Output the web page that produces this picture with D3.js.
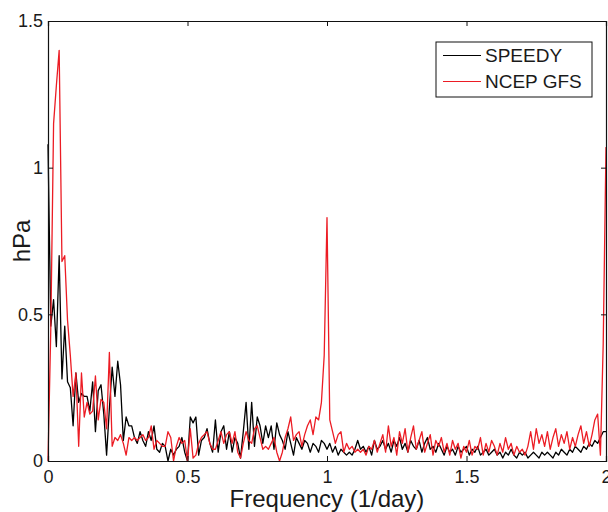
<!DOCTYPE html>
<html>
<head>
<meta charset="utf-8">
<script src="https://cdn.jsdelivr.net/npm/d3@7"></script>
<style>
  body { margin: 0; background: #fff; }
  text { font-family: "Liberation Sans", Arial, Helvetica, sans-serif; fill: #1a1a1a; }
</style>
</head>
<body>
<svg id="view" width="608" height="512"></svg>
<script>
// spectrum amplitude, sampled every 0.01 cycles/day from 0 to 2
var df = 0.01;

var speedy = [
	1.08, 0.46, 0.55, 0.39, 0.70, 0.28, 0.46, 0.27, 0.25, 0.12,
	0.30, 0.20, 0.23, 0.22, 0.22, 0.17, 0.27, 0.10, 0.24, 0.26,
	0.16, 0.02, 0.18, 0.32, 0.22, 0.34, 0.26, 0.07, 0.15, 0.12,
	0.12, 0.08, 0.06, 0.10, 0.07, 0.05, 0.10, 0.07, 0.12, 0.04,
	0.03, 0.06, 0.05, 0.00, 0.04, 0.02, 0.04, 0.05, 0.08, 0.03,
	0.00, 0.15, 0.13, 0.15, 0.02, 0.07, 0.08, 0.11, 0.06, 0.03,
	0.14, 0.03, 0.10, 0.12, 0.04, 0.10, 0.03, 0.08, 0.06, 0.01,
	0.10, 0.20, 0.04, 0.20, 0.05, 0.15, 0.12, 0.06, 0.12, 0.08,
	0.12, 0.04, 0.13, 0.09, 0.07, 0.04, 0.10, 0.06, 0.02, 0.08,
	0.06, 0.04, 0.07, 0.06, 0.03, 0.06, 0.05, 0.03, 0.07, 0.06,
	0.04, 0.06, 0.03, 0.05, 0.02, 0.04, 0.03, 0.02, 0.03, 0.02,
	0.04, 0.07, 0.04, 0.05, 0.03, 0.05, 0.02, 0.07, 0.04, 0.05,
	0.07, 0.04, 0.06, 0.03, 0.07, 0.05, 0.08, 0.04, 0.06, 0.03,
	0.07, 0.05, 0.04, 0.07, 0.03, 0.06, 0.08, 0.04, 0.05, 0.03,
	0.06, 0.04, 0.02, 0.05, 0.03, 0.04, 0.02, 0.05, 0.03, 0.04,
	0.05, 0.02, 0.04, 0.03, 0.05, 0.02, 0.03, 0.04, 0.02, 0.03,
	0.04, 0.02, 0.03, 0.01, 0.03, 0.02, 0.04, 0.02, 0.01, 0.03,
	0.02, 0.03, 0.01, 0.02, 0.03, 0.02, 0.01, 0.03, 0.02, 0.03,
	0.02, 0.01, 0.03, 0.02, 0.04, 0.03, 0.02, 0.04, 0.03, 0.05,
	0.04, 0.03, 0.05, 0.04, 0.06, 0.05, 0.07, 0.06, 0.08, 0.10,
	0.10
];

var ncep = [
	0.00, 0.45, 1.15, 1.28, 1.40, 0.68, 0.70, 0.48, 0.36, 0.22,
	0.30, 0.05, 0.30, 0.15, 0.20, 0.16, 0.17, 0.29, 0.14, 0.21,
	0.20, 0.11, 0.37, 0.05, 0.08, 0.07, 0.09, 0.06, 0.02, 0.08,
	0.07, 0.08, 0.07, 0.08, 0.09, 0.07, 0.08, 0.12, 0.04, 0.07,
	0.06, 0.05, 0.05, 0.10, 0.08, 0.00, 0.05, 0.08, 0.06, 0.07,
	0.00, 0.11, 0.01, 0.02, 0.06, 0.08, 0.09, 0.10, 0.06, 0.04,
	0.04, 0.07, 0.10, 0.06, 0.09, 0.10, 0.06, 0.10, 0.03, 0.01,
	0.06, 0.10, 0.07, 0.06, 0.11, 0.12, 0.08, 0.04, 0.05, 0.04,
	0.06, 0.08, 0.03, 0.00, 0.03, 0.08, 0.11, 0.15, 0.07, 0.09,
	0.10, 0.05, 0.09, 0.12, 0.14, 0.09, 0.15, 0.14, 0.20, 0.36,
	0.83, 0.14, 0.10, 0.06, 0.09, 0.10, 0.03, 0.06, 0.04, 0.05,
	0.03, 0.04, 0.03, 0.04, 0.02, 0.05, 0.04, 0.07, 0.03, 0.06,
	0.09, 0.03, 0.12, 0.05, 0.08, 0.02, 0.10, 0.06, 0.11, 0.03,
	0.08, 0.12, 0.04, 0.07, 0.10, 0.03, 0.06, 0.09, 0.02, 0.07,
	0.05, 0.08, 0.03, 0.06, 0.02, 0.07, 0.04, 0.06, 0.01, 0.05,
	0.03, 0.07, 0.02, 0.05, 0.04, 0.08, 0.02, 0.06, 0.03, 0.07,
	0.05, 0.02, 0.06, 0.03, 0.08, 0.04, 0.06, 0.02, 0.05, 0.03,
	0.04, 0.02, 0.05, 0.10, 0.04, 0.11, 0.06, 0.09, 0.05, 0.10,
	0.04, 0.08, 0.11, 0.05, 0.09, 0.06, 0.10, 0.04, 0.08, 0.05,
	0.09, 0.12, 0.06, 0.10, 0.05, 0.09, 0.14, 0.16, 0.02, 0.40,
	1.07
];

var seriesNames = ['SPEEDY', 'NCEP GFS'];
var seriesColors = ['#000000', '#ec1c24'];
var xTicks = [0, 0.5, 1, 1.5, 2];
var yTicks = [0, 0.5, 1, 1.5];

var view = d3.select('svg#view');
var plot = { left: 48, right: 606, top: 21, bottom: 461 };

var x = d3.scaleLinear().domain([0, 2]).range([plot.left, plot.right]);
var y = d3.scaleLinear().domain([0, 1.5]).range([plot.bottom, plot.top]);

// lines (SPEEDY first, NCEP on top)
var line = d3.line()
	.x(function(d, i) { return x(i * df); })
	.y(function(d) { return y(d); });

[speedy, ncep].forEach(function(s, k) {
	view.append('path')
		.datum(s)
		.attr('d', line)
		.attr('fill', 'none')
		.attr('stroke', seriesColors[k])
		.attr('stroke-width', 1.3)
		.attr('stroke-linejoin', 'round');
});

// axes, matlab style: ticks inward on all four sides
var TICK = 5;
var fmt = function(d) { return d3.format('')(d); };

view.append('g')
	.attr('transform', 'translate(0,' + plot.bottom + ')')
	.call(d3.axisBottom(x).tickValues(xTicks).tickSize(-TICK).tickPadding(9).tickFormat(fmt));
view.append('g')
	.attr('transform', 'translate(0,' + plot.top + ')')
	.call(d3.axisTop(x).tickValues(xTicks).tickSize(-TICK).tickFormat(''));
view.append('g')
	.attr('transform', 'translate(' + plot.left + ',0)')
	.call(d3.axisLeft(y).tickValues(yTicks).tickSize(-TICK).tickPadding(5).tickFormat(fmt));
view.append('g')
	.attr('transform', 'translate(' + plot.right + ',0)')
	.call(d3.axisRight(y).tickValues(yTicks).tickSize(-TICK).tickFormat(''));

view.selectAll('.domain').attr('stroke', '#111').attr('stroke-width', 1.2);
view.selectAll('.tick line').attr('stroke', '#111');
view.selectAll('.tick text')
	.attr('font-family', '"Liberation Sans", Arial, sans-serif')
	.attr('font-size', 18)
	.attr('fill', '#1a1a1a');

// axis titles
view.append('text')
	.attr('x', (plot.left + plot.right) / 2)
	.attr('y', 507)
	.attr('text-anchor', 'middle')
	.attr('font-size', 24)
	.text('Frequency (1/day)');

view.append('text')
	.attr('transform', 'translate(30,241) rotate(-90)')
	.attr('text-anchor', 'middle')
	.attr('font-size', 24)
	.text('hPa');

// legend
var leg = view.append('g').attr('transform', 'translate(436,42)');
leg.append('rect')
	.attr('width', 156).attr('height', 55)
	.attr('fill', '#fff').attr('stroke', '#111').attr('stroke-width', 1);
seriesNames.forEach(function(name, k) {
	var ly = 13.5 + k * 26;
	leg.append('line')
		.attr('x1', 7).attr('x2', 45).attr('y1', ly).attr('y2', ly)
		.attr('stroke', seriesColors[k]).attr('stroke-width', 1.1);
	leg.append('text')
		.attr('x', 49).attr('y', ly).attr('dy', '0.35em')
		.attr('font-size', 19)
		.text(name);
});
</script>
</body>
</html>
